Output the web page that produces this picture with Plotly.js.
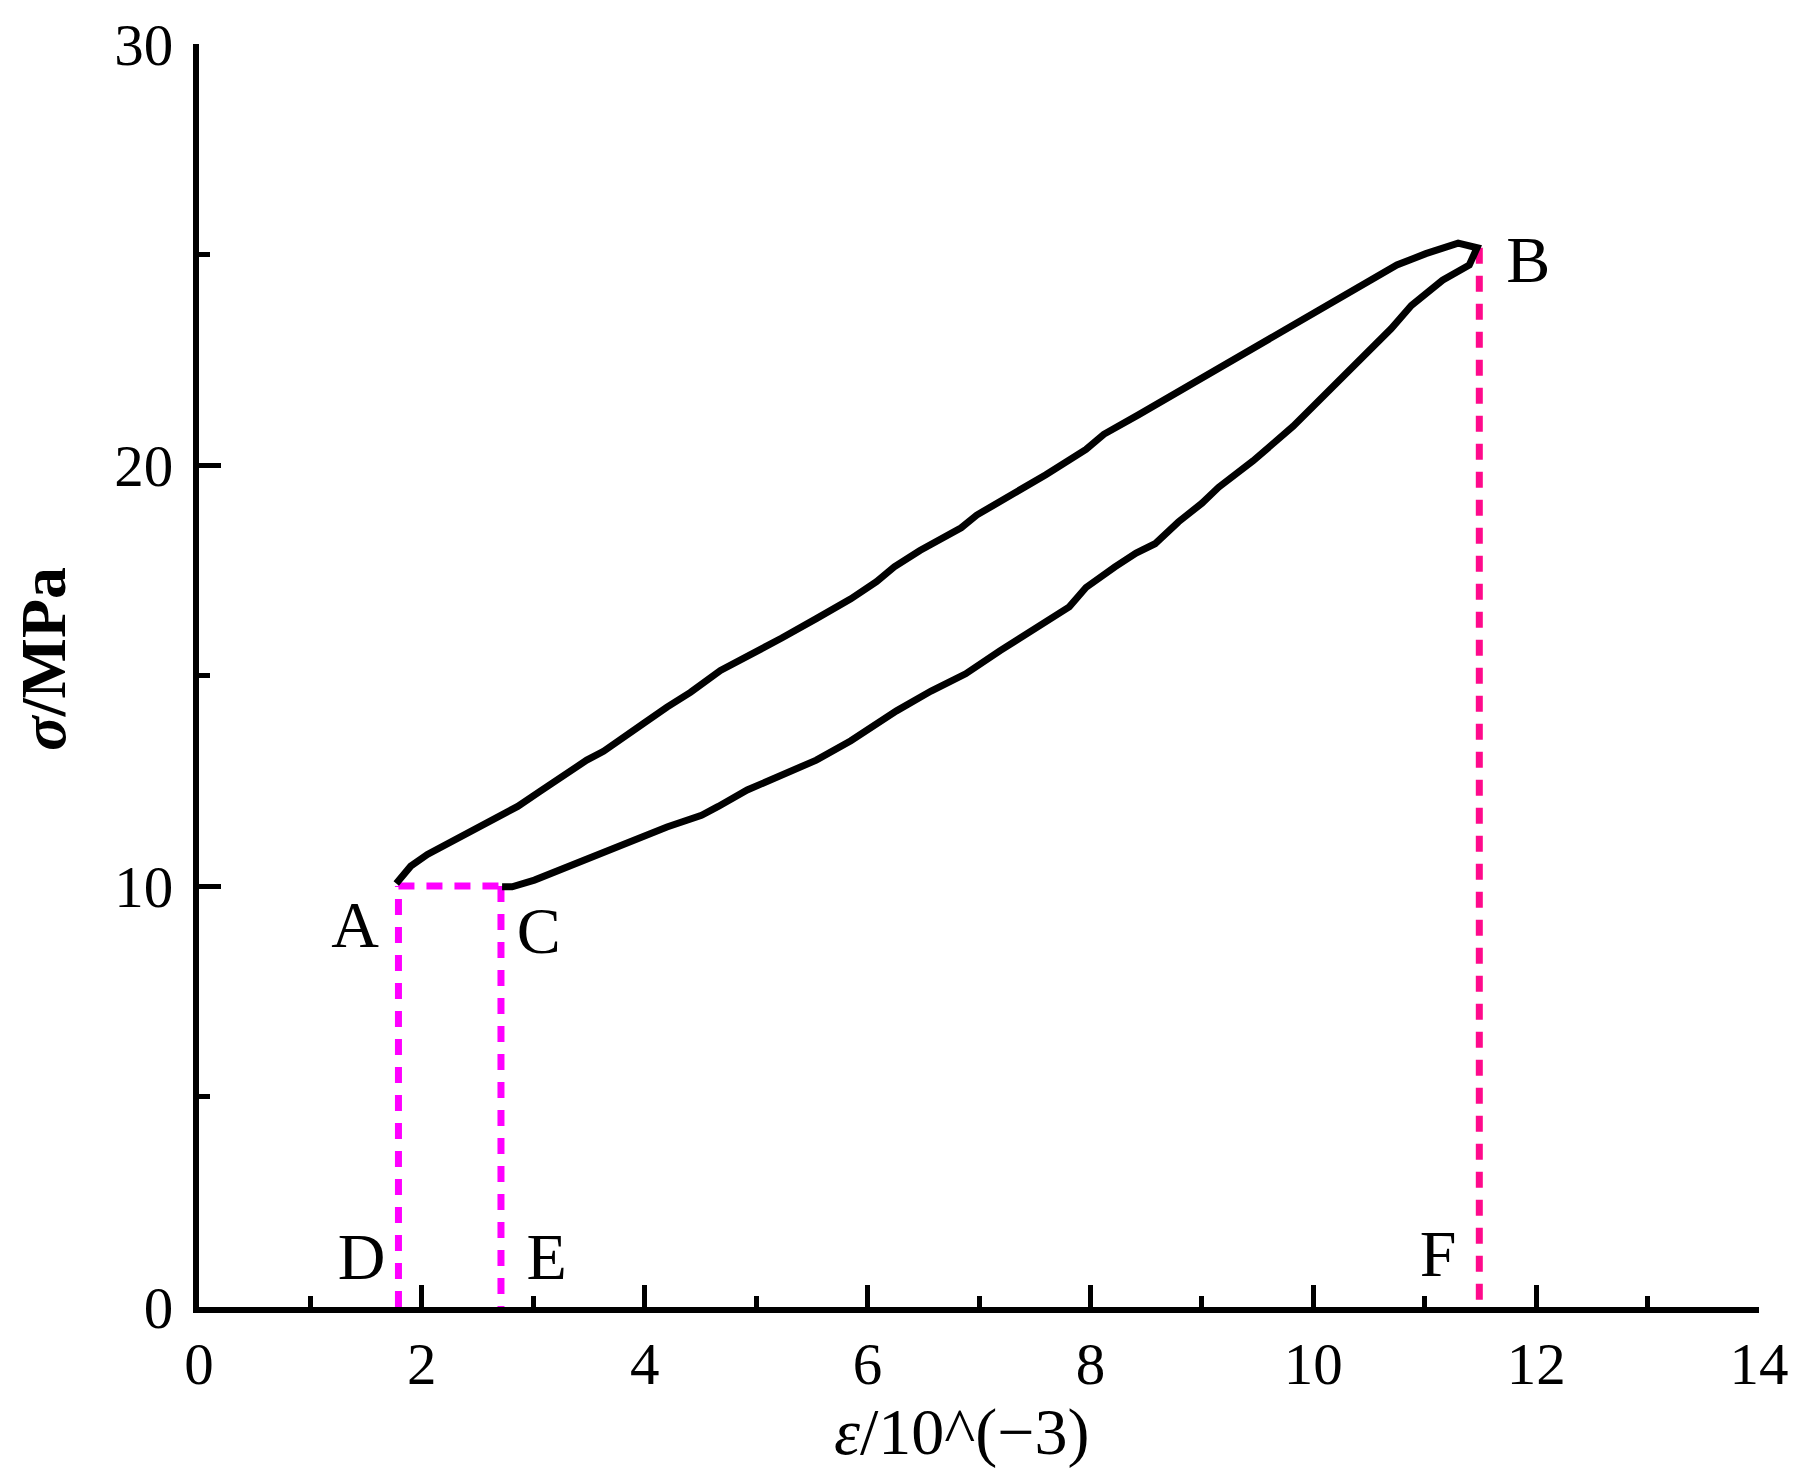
<!DOCTYPE html>
<html>
<head>
<meta charset="utf-8">
<script src="https://cdn.plot.ly/plotly-3.0.1.min.js"></script>
<style>
  html, body { margin: 0; padding: 0; background: #fff; }
  #chart { width: 1803px; height: 1476px; }
</style>
</head>
<body>
<div id="chart"></div>
<script>
// loop: loading branch A -> B, then unloading branch B -> C
let strainLoop = [
  1.77, 1.90, 2.05, 2.24, 2.45, 2.65, 2.86, 3.06, 3.24, 3.43, 3.48, 3.63, 3.79, 3.99,
  4.20, 4.41, 4.68, 4.92, 5.23, 5.54, 5.85, 6.08, 6.24, 6.47, 6.68, 6.84, 6.98, 7.29,
  7.60, 7.96, 8.12, 8.43, 8.74, 9.05, 9.36, 9.67, 9.98, 10.18, 10.49, 10.75, 11.01,
  11.30, 11.47,
  11.40, 11.16, 10.88, 10.70, 10.49, 10.29, 10.08, 9.82, 9.46, 9.15, 9.00, 8.79, 8.58,
  8.41, 8.22, 7.96, 7.81, 7.50, 7.19, 6.88, 6.57, 6.26, 6.05, 5.85, 5.54, 5.23, 4.92,
  4.66, 4.51, 4.20, 3.89, 3.58, 3.27, 3.01, 2.81, 2.72
];
let stressLoop = [
  10.06, 10.47, 10.75, 11.02, 11.29, 11.57, 11.89, 12.25, 12.58, 12.88, 12.99, 13.20, 13.51, 13.86,
  14.25, 14.60, 15.12, 15.45, 15.89, 16.35, 16.82, 17.23, 17.58, 17.97, 18.29, 18.51, 18.81, 19.28,
  19.77, 20.37, 20.73, 21.19, 21.66, 22.15, 22.64, 23.11, 23.54, 23.85, 24.31, 24.75, 25.02,
  25.27, 25.16,
  24.75, 24.39, 23.79, 23.24, 22.70, 22.15, 21.60, 20.92, 20.10, 19.47, 19.09, 18.65, 18.13,
  17.91, 17.58, 17.09, 16.63, 16.13, 15.59, 15.04, 14.63, 14.16, 13.81, 13.45, 12.99, 12.63, 12.28,
  11.89, 11.68, 11.40, 11.07, 10.75, 10.39, 10.14, 9.98, 9.98
];

// guide lines A-D, A-C, C-E and B-F
let guideAX = [1.79, 1.79], guideAY = [0, 10];
let guideACX = [1.79, 2.71], guideACY = [10, 10];
let guideCX = [2.71, 2.71], guideCY = [10, 0];
let guideBX = [11.49, 11.49], guideBY = [25.16, 0];

// point labels
let labelText = ['A', 'B', 'C', 'D', 'E', 'F'];
let labelX = [1.40, 11.93, 3.05, 1.46, 3.12, 11.12];
let labelY = [8.95, 24.75, 8.80, 1.05, 1.05, 1.12];

let serif = 'Liberation Serif, Times New Roman, serif';
let magenta = '#ff00ff';
let pink = '#ff0a8c';

function guide(x, y, color) {
  return {
    x: x, y: y, mode: 'lines', hoverinfo: 'skip',
    line: { color: color, width: 7, dash: '16px,12px' }
  };
}

let traces = [
  guide(guideAX, guideAY, magenta),
  guide(guideACX, guideACY, magenta),
  guide(guideCX, guideCY, magenta),
  guide(guideBX, guideBY, pink),
  {
    x: strainLoop, y: stressLoop, mode: 'lines',
    line: { color: '#000', width: 7 }
  },
  {
    x: labelX, y: labelY, mode: 'text', text: labelText,
    textposition: 'middle center',
    textfont: { family: serif, size: 66, color: '#000' }
  }
];

let axisCommon = {
  showline: true, linecolor: '#000', linewidth: 6,
  showgrid: false, zeroline: false,
  ticks: 'inside', ticklen: 22, tickwidth: 5, tickcolor: '#000',
  tickfont: { family: serif, size: 59, color: '#000' },
  fixedrange: true
};

let layout = {
  width: 1803, height: 1476,
  margin: { l: 199, r: 44, t: 44, b: 169 },
  paper_bgcolor: '#fff', plot_bgcolor: '#fff',
  showlegend: false,
  xaxis: Object.assign({}, axisCommon, {
    range: [0, 14], dtick: 2, tick0: 0,
    minor: { dtick: 1, ticks: 'inside', ticklen: 11, tickwidth: 5, tickcolor: '#000' }
  }),
  yaxis: Object.assign({}, axisCommon, {
    range: [0, 30], dtick: 10, tick0: 0, ticklabelstandoff: 8,
    minor: { dtick: 5, ticks: 'inside', ticklen: 11, tickwidth: 5, tickcolor: '#000' }
  }),
  annotations: [
    {
      text: '<i>ε</i>/10^(−3)', showarrow: false,
      xref: 'x', x: 6.85, xanchor: 'center',
      yref: 'paper', y: 0, yanchor: 'middle', yshift: -125,
      font: { family: serif, size: 66, color: '#000' }
    },
    {
      text: '<b><i>σ</i>/MPa</b>', textangle: -90, showarrow: false,
      xref: 'paper', x: 0, xanchor: 'center', xshift: -155,
      yref: 'y', y: 15.4, yanchor: 'middle',
      font: { family: serif, size: 64, color: '#000' }
    }
  ]
};

Plotly.newPlot('chart', traces, layout, { displayModeBar: false, staticPlot: true });
</script>
</body>
</html>
